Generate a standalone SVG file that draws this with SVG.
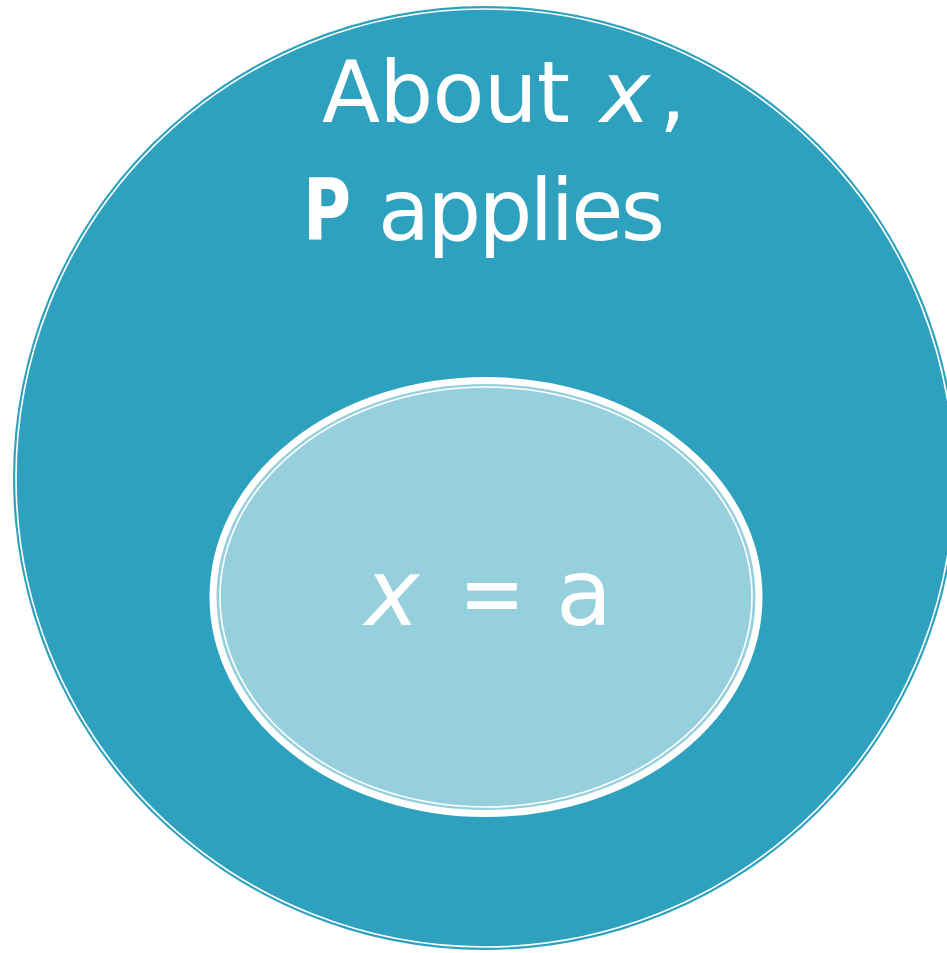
<svg xmlns="http://www.w3.org/2000/svg" width="947" height="953" viewBox="0 0 947 953">
<style>
.t{font-family:"DejaVu Sans","Liberation Sans",sans-serif;fill:#ffffff}
.it{font-style:italic}
.b{font-weight:bold}
</style>
<rect width="947" height="953" fill="#ffffff"/>
<g id="outer">
<circle cx="485" cy="478" r="472" fill="#2EA1BF"/>
<circle cx="485" cy="478" r="469" fill="none" stroke="#ffffff" stroke-width="1.6"/>
<text class="t" font-size="85" y="122"><tspan x="322" textLength="248">About</tspan><tspan class="it" x="600">x</tspan><tspan x="659">,</tspan></text>
<text class="t" font-size="85" y="240"><tspan class="b" x="303" textLength="48" lengthAdjust="spacingAndGlyphs">P</tspan><tspan x="378" textLength="287">applies</tspan></text>
</g>
<g id="inner">
<ellipse cx="486" cy="597" rx="273" ry="216.5" fill="#96D0DD" stroke="#ffffff" stroke-width="7"/>
<ellipse cx="486" cy="597" rx="266" ry="210" fill="none" stroke="#ffffff" stroke-width="1.6"/>
<text class="t" font-size="92" y="625"><tspan class="it" x="365">x</tspan><tspan class="it" x="459" textLength="66" lengthAdjust="spacingAndGlyphs">=</tspan><tspan x="556">a</tspan></text>
</g>
<g id="connectors"/>
</svg>
